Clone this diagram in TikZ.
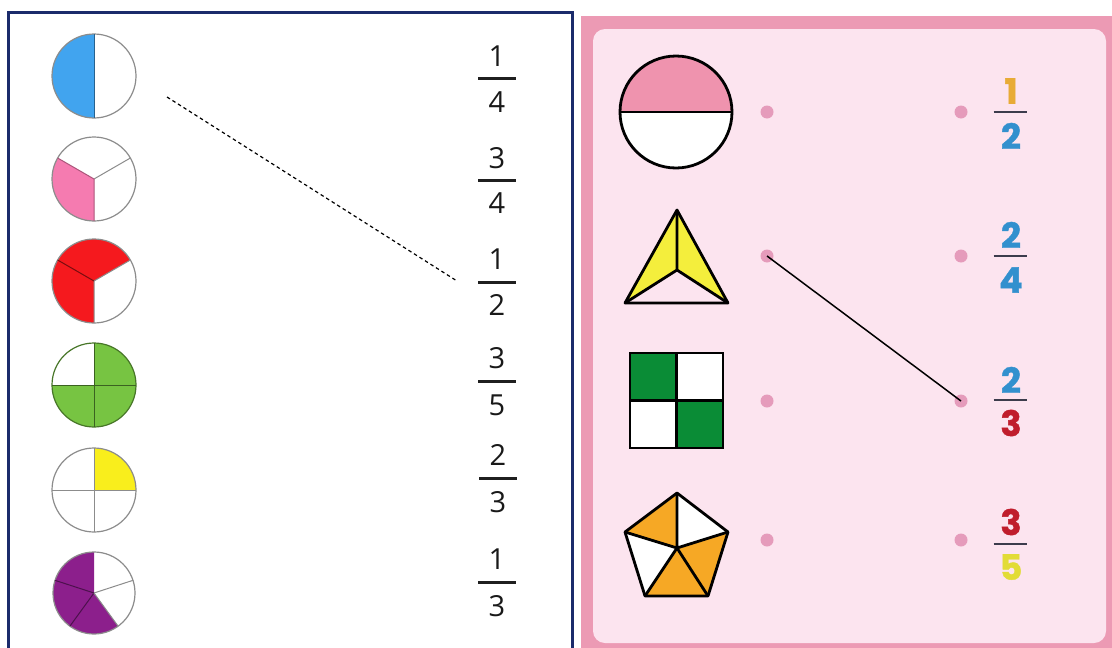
\documentclass[tikz,border=0pt]{standalone}
\usepackage{fontspec}
\newfontfamily\sheetfont{Open Sans}
\newfontfamily\bubblefont{Poppins}[BoldFeatures={FakeBold=1.2}]
\usepackage{tikz}
\usetikzlibrary{calc}
\definecolor{sheetnavy}{HTML}{1B2B6B}
\definecolor{piegray}{HTML}{8C8C8C}
\definecolor{pieblue}{HTML}{41A4EF}
\definecolor{piepink}{HTML}{F57BB0}
\definecolor{piered}{HTML}{F5191E}
\definecolor{piegreen}{HTML}{77C442}
\definecolor{pieyellow}{HTML}{F9EE1C}
\definecolor{piepurple}{HTML}{8C1F8C}
\definecolor{cardrim}{HTML}{EC9AB4}
\definecolor{cardfill}{HTML}{FCE4EF}
\definecolor{halfpink}{HTML}{EF93AE}
\definecolor{triyellow}{HTML}{F4EE3C}
\definecolor{sqgreen}{HTML}{0A8C36}
\definecolor{pentorange}{HTML}{F6A825}
\definecolor{dotpink}{HTML}{E59BBB}
\definecolor{barslate}{HTML}{3C3C4C}
\definecolor{digorange}{HTML}{E8AB36}
\definecolor{digblue}{HTML}{3290CE}
\definecolor{digred}{HTML}{C01D2C}
\definecolor{digyellow}{HTML}{E2DC36}

\begin{document}
\begin{tikzpicture}[
  x=1pt, y=1pt,
  rimline/.style={draw=piegray, line width=1.2pt},
  cutline/.style={draw=piegray, line width=1pt},
  fig/.style={draw=black, line width=2.8pt, line join=round},
  lnum/.style={font=\sheetfont\fontsize{29}{29}\selectfont, text=black!90, inner sep=0pt},
  rnum/.style={font=\bubblefont\bfseries\fontsize{35}{35}\selectfont, inner sep=0pt},
  lbar/.style={draw=black!88, line width=3pt},
  rbar/.style={draw=barslate, line width=2.6pt},
  pdot/.style={circle, fill=dotpink, minimum size=13pt, inner sep=0pt},
  link/.style={draw=black, line width=1.5pt},
  hint/.style={draw=black, line width=1.2pt, dash pattern=on 3.5pt off 3pt},
]
  \clip (0,0) rectangle (1112,-648);
  \fill[white] (0,0) rectangle (1112,-648);

  % left sheet
  \draw[sheetnavy, line width=3pt] (8,-12) rectangle (572,-670);

  % pies
  \coordinate (p1) at (94,-76);
  \coordinate (p2) at (94,-179);
  \coordinate (p3) at (94,-281);
  \coordinate (p4) at (94,-385);
  \coordinate (p5) at (94,-490);
  \coordinate (p6) at (94,-593);

  \fill[pieblue] (p1) -- ++(90:42pt) arc (90:270:42pt) -- cycle;
  \draw[rimline] (p1) circle (42pt);
  \draw[pieblue!60!black, line width=1pt] (p1) ++(0,42) -- ++(0,-84);

  \fill[piepink] (p2) -- ++(150:42pt) arc (150:270:42pt) -- cycle;
  \draw[rimline] (p2) circle (42pt);
  \draw[cutline] (p2) -- ++(30:42pt);
  \draw[piepink!70!black, line width=1pt] (p2) -- ++(150:42pt) (p2) -- ++(270:42pt);

  \fill[piered] (p3) -- ++(30:42pt) arc (30:270:42pt) -- cycle;
  \draw[rimline] (p3) circle (42pt);
  \draw[cutline] (p3) -- ++(30:42pt) (p3) -- ++(270:42pt);
  \draw[piered!50!black, line width=1pt] (p3) -- ++(150:42pt);

  \fill[piegreen] (p4) -- ++(180:42pt) arc (180:450:42pt) -- cycle;
  \draw[piegreen!60!black, line width=1.2pt] (p4) circle (42pt);
  \draw[piegreen!50!black, line width=1pt] (p4) ++(-42,0) -- ++(84,0) (p4) ++(0,42) -- ++(0,-84);

  \fill[pieyellow] (p5) -- ++(0:42pt) arc (0:90:42pt) -- cycle;
  \draw[rimline] (p5) circle (42pt);
  \draw[cutline] (p5) ++(-42,0) -- ++(84,0) (p5) ++(0,42) -- ++(0,-84);

  \fill[piepurple] (p6) -- ++(90:41pt) arc (90:306:41pt) -- cycle;
  \draw[rimline] (p6) circle (41pt);
  \draw[cutline] (p6) -- ++(18:41pt);
  \draw[piepurple!55!black, line width=1pt] (p6) -- ++(162:41pt) (p6) -- ++(234:41pt);
  \draw[cutline] (p6) -- ++(306:41pt);

  % left fractions
  \node[lnum] (ln1) at (497,-56) {1};  \coordinate (lb1) at (497,-78);  \node[lnum] (ld1) at (497,-102) {4};
  \node[lnum] (ln2) at (497,-158) {3}; \coordinate (lb2) at (497,-180); \node[lnum] (ld2) at (497,-203) {4};
  \node[lnum] (ln3) at (497,-259) {1}; \coordinate (lb3) at (497,-282); \node[lnum] (ld3) at (497,-305) {2};
  \node[lnum] (ln4) at (497,-358) {3}; \coordinate (lb4) at (497,-381); \node[lnum] (ld4) at (497,-405) {5};
  \node[lnum] (ln5) at (498,-455) {2}; \coordinate (lb5) at (498,-478); \node[lnum] (ld5) at (498,-502) {3};
  \node[lnum] (ln6) at (497,-559) {1}; \coordinate (lb6) at (497,-582); \node[lnum] (ld6) at (497,-606) {3};
  \foreach \b in {lb1,lb2,lb3,lb4,lb5,lb6}
    \draw[lbar] ($(\b)+(-19,0)$) -- ($(\b)+(19,0)$);

  % dashed answer line
  \coordinate (hs) at (167,-97);
  \coordinate (he) at (457,-281);
  \draw[hint] (hs) -- (he);

  % right card
  \fill[cardrim] (581,-16) rectangle (1120,-660);
  \fill[cardfill, rounded corners=12pt] (593,-29) rectangle (1106,-643);

  % half circle
  \coordinate (sc) at (676,-112);
  \fill[halfpink] (sc) ++(-56,0) arc (180:0:56pt) -- cycle;
  \fill[white] (sc) ++(-56,0) arc (180:360:56pt) -- cycle;
  \draw[fig] (sc) circle (56pt);
  \draw[fig] (sc) ++(-56,0) -- ++(112,0);

  % triangle
  \coordinate (ta) at (677,-210);
  \coordinate (tl) at (625,-303);
  \coordinate (tr) at (728,-303);
  \coordinate (tc) at (677,-270);
  \fill[triyellow] (ta) -- (tl) -- (tc) -- cycle;
  \fill[triyellow] (ta) -- (tr) -- (tc) -- cycle;
  \draw[fig] (ta) -- (tl) -- (tr) -- cycle;
  \draw[fig] (tc) -- (ta) (tc) -- (tl) (tc) -- (tr);

  % square
  \coordinate (qm) at (676.5,-400.5);
  \fill[white] (630,-353) rectangle (723,-448);
  \fill[sqgreen] (630,-353) rectangle (qm);
  \fill[sqgreen] (qm) rectangle (723,-448);
  \draw[fig, line join=miter] (630,-353) rectangle (723,-448);
  \draw[fig] (qm |- 0,-353) -- (qm |- 0,-448) (630,-400.5) -- (723,-400.5);

  % pentagon
  \coordinate (gt) at (677,-493);
  \coordinate (gur) at (728,-532);
  \coordinate (glr) at (708,-596);
  \coordinate (gll) at (645,-596);
  \coordinate (gul) at (625,-532);
  \coordinate (gc) at (677,-548);
  \fill[white] (gt) -- (gur) -- (glr) -- (gll) -- (gul) -- cycle;
  \fill[pentorange] (gt) -- (gul) -- (gc) -- cycle;
  \fill[pentorange] (gur) -- (glr) -- (gc) -- cycle;
  \fill[pentorange] (glr) -- (gll) -- (gc) -- cycle;
  \draw[fig] (gt) -- (gur) -- (glr) -- (gll) -- (gul) -- cycle;
  \draw[fig] (gc) -- (gt) (gc) -- (gur) (gc) -- (glr) (gc) -- (gll) (gc) -- (gul);

  % dots
  \node[pdot] (l1) at (767,-112) {};
  \node[pdot] (l2) at (767,-256) {};
  \node[pdot] (l3) at (767,-401) {};
  \node[pdot] (l4) at (767,-540) {};
  \node[pdot] (r1) at (961,-112) {};
  \node[pdot] (r2) at (961,-256) {};
  \node[pdot] (r3) at (961,-401) {};
  \node[pdot] (r4) at (961,-540) {};

  % right fractions
  \node[rnum, text=digorange] (rn1) at (1011,-91) {1};  \coordinate (rb1) at (1010,-112); \node[rnum, text=digblue] (rd1) at (1011,-136) {2};
  \node[rnum, text=digblue] (rn2) at (1011,-235) {2};   \coordinate (rb2) at (1010,-256); \node[rnum, text=digblue] (rd2) at (1011,-280) {4};
  \node[rnum, text=digblue] (rn3) at (1011,-380) {2};   \coordinate (rb3) at (1010,-400); \node[rnum, text=digred] (rd3) at (1011,-423) {3};
  \node[rnum, text=digred] (rn4) at (1011,-522) {3};    \coordinate (rb4) at (1010,-544); \node[rnum, text=digyellow] (rd4) at (1011,-567) {5};
  \foreach \b in {rb1,rb2,rb3,rb4}
    \draw[rbar] ($(\b)+(-16.5,0)$) -- ($(\b)+(16.5,0)$);

  \draw[link] (l2.center) -- (r3.center);
\end{tikzpicture}
\end{document}
